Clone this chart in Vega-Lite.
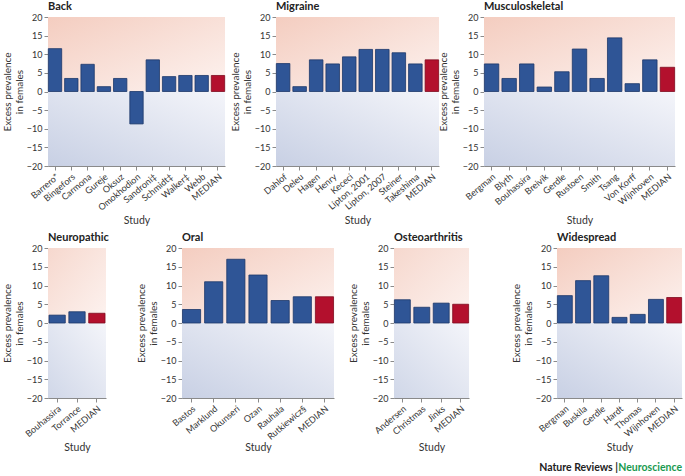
{
  "$schema": "https://vega.github.io/schema/vega-lite/v6.json",
  "padding": {"left": 2, "top": 1, "right": 2, "bottom": 2},
  "background": "white",
  "data": {"values": [
    {"cat": "Back", "study": "Barrero*", "value": 11.5, "kind": "study"},
    {"cat": "Back", "study": "Bingefors", "value": 3.5, "kind": "study"},
    {"cat": "Back", "study": "Carmona", "value": 7.3, "kind": "study"},
    {"cat": "Back", "study": "Gureje", "value": 1.3, "kind": "study"},
    {"cat": "Back", "study": "Oksuz", "value": 3.5, "kind": "study"},
    {"cat": "Back", "study": "Omokhodion", "value": -8.7, "kind": "study"},
    {"cat": "Back", "study": "Sandroni‡", "value": 8.5, "kind": "study"},
    {"cat": "Back", "study": "Schmidt‡", "value": 4.0, "kind": "study"},
    {"cat": "Back", "study": "Walker‡", "value": 4.3, "kind": "study"},
    {"cat": "Back", "study": "Webb", "value": 4.3, "kind": "study"},
    {"cat": "Back", "study": "MEDIAN", "value": 4.3, "kind": "median"},
    {"cat": "Migraine", "study": "Dahlof", "value": 7.5, "kind": "study"},
    {"cat": "Migraine", "study": "Deleu", "value": 1.3, "kind": "study"},
    {"cat": "Migraine", "study": "Hagen", "value": 8.5, "kind": "study"},
    {"cat": "Migraine", "study": "Henry", "value": 7.4, "kind": "study"},
    {"cat": "Migraine", "study": "Kececi", "value": 9.3, "kind": "study"},
    {"cat": "Migraine", "study": "Lipton, 2001", "value": 11.3, "kind": "study"},
    {"cat": "Migraine", "study": "Lipton, 2007", "value": 11.3, "kind": "study"},
    {"cat": "Migraine", "study": "Steiner", "value": 10.4, "kind": "study"},
    {"cat": "Migraine", "study": "Takeshima", "value": 7.4, "kind": "study"},
    {"cat": "Migraine", "study": "MEDIAN", "value": 8.5, "kind": "median"},
    {"cat": "Musculoskeletal", "study": "Bergman", "value": 7.4, "kind": "study"},
    {"cat": "Musculoskeletal", "study": "Blyth", "value": 3.5, "kind": "study"},
    {"cat": "Musculoskeletal", "study": "Bouhassira", "value": 7.4, "kind": "study"},
    {"cat": "Musculoskeletal", "study": "Breivik", "value": 1.2, "kind": "study"},
    {"cat": "Musculoskeletal", "study": "Gerdle", "value": 5.3, "kind": "study"},
    {"cat": "Musculoskeletal", "study": "Rustoen", "value": 11.4, "kind": "study"},
    {"cat": "Musculoskeletal", "study": "Smith", "value": 3.5, "kind": "study"},
    {"cat": "Musculoskeletal", "study": "Tsang", "value": 14.4, "kind": "study"},
    {"cat": "Musculoskeletal", "study": "Von Korff", "value": 2.1, "kind": "study"},
    {"cat": "Musculoskeletal", "study": "Wijnhoven", "value": 8.5, "kind": "study"},
    {"cat": "Musculoskeletal", "study": "MEDIAN", "value": 6.5, "kind": "median"},
    {"cat": "Neuropathic", "study": "Bouhassira", "value": 2.1, "kind": "study"},
    {"cat": "Neuropathic", "study": "Torrance", "value": 3.0, "kind": "study"},
    {"cat": "Neuropathic", "study": "MEDIAN", "value": 2.6, "kind": "median"},
    {"cat": "Oral", "study": "Bastos", "value": 3.6, "kind": "study"},
    {"cat": "Oral", "study": "Marklund", "value": 11.0, "kind": "study"},
    {"cat": "Oral", "study": "Okunseri", "value": 17.0, "kind": "study"},
    {"cat": "Oral", "study": "Ozan", "value": 12.8, "kind": "study"},
    {"cat": "Oral", "study": "Rauhala", "value": 6.0, "kind": "study"},
    {"cat": "Oral", "study": "Riley§", "value": null, "kind": "study"},
    {"cat": "Oral", "study": "Rutkiewicz§", "value": 7.0, "kind": "study"},
    {"cat": "Oral", "study": "MEDIAN", "value": 7.0, "kind": "median"},
    {"cat": "Osteoarthritis", "study": "Andersen", "value": 6.2, "kind": "study"},
    {"cat": "Osteoarthritis", "study": "Christmas", "value": 4.2, "kind": "study"},
    {"cat": "Osteoarthritis", "study": "Jinks", "value": 5.3, "kind": "study"},
    {"cat": "Osteoarthritis", "study": "MEDIAN", "value": 5.0, "kind": "median"},
    {"cat": "Widespread", "study": "Bergman", "value": 7.3, "kind": "study"},
    {"cat": "Widespread", "study": "Buskila", "value": 11.3, "kind": "study"},
    {"cat": "Widespread", "study": "Gerdle", "value": 12.6, "kind": "study"},
    {"cat": "Widespread", "study": "Hardt", "value": 1.5, "kind": "study"},
    {"cat": "Widespread", "study": "Thomas", "value": 2.3, "kind": "study"},
    {"cat": "Widespread", "study": "Wijnhoven", "value": 6.3, "kind": "study"},
    {"cat": "Widespread", "study": "MEDIAN", "value": 6.8, "kind": "median"}
  ]},
  "title": {"text": "Nature Reviews |", "orient": "bottom", "anchor": "end", "frame": "bounds", "dx": -64, "dy": -10, "fontSize": 10.5, "fontWeight": "bold", "color": "#222", "offset": 0},
  "vconcat": [
    {
      "spacing": -2,
      "hconcat": [
        {
          "spacing": 4,
          "hconcat": [
            {
              "width": 177, "height": 149,
              "title": {"text": "Back"},
              "layer": [
                {"data": {"values": [{}]}, "mark": {"type": "rect", "fill": {"gradient": "linear", "x1": 0, "y1": 0, "x2": 1, "y2": 1, "stops": [{"offset": 0, "color": "#f4cdc0"}, {"offset": 1, "color": "#fdf3f0"}]}}, "encoding": {"y": {"datum": 20, "type": "quantitative", "scale": {"domain": [-20, 20], "nice": false}, "axis": {"title": ["Excess prevalence", "in females"], "values": [-20, -15, -10, -5, 0, 5, 10, 15, 20]}}, "y2": {"datum": 0}}},
                {"data": {"values": [{}]}, "mark": {"type": "rect", "fill": {"gradient": "linear", "x1": 0, "y1": 1, "x2": 1, "y2": 0, "stops": [{"offset": 0, "color": "#c8d0e4"}, {"offset": 1, "color": "#f4f5fa"}]}}, "encoding": {"y": {"datum": 0, "type": "quantitative", "scale": {"domain": [-20, 20], "nice": false}, "axis": {"title": ["Excess prevalence", "in females"], "values": [-20, -15, -10, -5, 0, 5, 10, 15, 20]}}, "y2": {"datum": -20}}},
                {"transform": [{"filter": "datum.cat === 'Back'"}], "mark": {"type": "bar", "strokeWidth": 0.8}, "encoding": {
                  "x": {"field": "study", "type": "nominal", "sort": null, "scale": {"paddingInner": 0.18, "paddingOuter": 0.02}, "axis": {"title": "Study", "titleY": 49}},
                  "y": {"field": "value", "type": "quantitative", "scale": {"domain": [-20, 20], "nice": false}, "axis": {"title": ["Excess prevalence", "in females"], "values": [-20, -15, -10, -5, 0, 5, 10, 15, 20]}},
                  "fill": {"field": "kind", "type": "nominal", "scale": {"domain": ["study", "median"], "range": ["#2f5596", "#b3102d"]}, "legend": null},
                  "stroke": {"field": "kind", "type": "nominal", "scale": {"domain": ["study", "median"], "range": ["#1c376a", "#7d0a1e"]}, "legend": null}
                }}
              ]
            },
            {
              "width": 163, "height": 149,
              "title": {"text": "Migraine"},
              "layer": [
                {"data": {"values": [{}]}, "mark": {"type": "rect", "fill": {"gradient": "linear", "x1": 0, "y1": 0, "x2": 1, "y2": 1, "stops": [{"offset": 0, "color": "#f4cdc0"}, {"offset": 1, "color": "#fdf3f0"}]}}, "encoding": {"y": {"datum": 20, "type": "quantitative", "scale": {"domain": [-20, 20], "nice": false}, "axis": {"title": ["Excess prevalence", "in females"], "values": [-20, -15, -10, -5, 0, 5, 10, 15, 20]}}, "y2": {"datum": 0}}},
                {"data": {"values": [{}]}, "mark": {"type": "rect", "fill": {"gradient": "linear", "x1": 0, "y1": 1, "x2": 1, "y2": 0, "stops": [{"offset": 0, "color": "#c8d0e4"}, {"offset": 1, "color": "#f4f5fa"}]}}, "encoding": {"y": {"datum": 0, "type": "quantitative", "scale": {"domain": [-20, 20], "nice": false}, "axis": {"title": ["Excess prevalence", "in females"], "values": [-20, -15, -10, -5, 0, 5, 10, 15, 20]}}, "y2": {"datum": -20}}},
                {"transform": [{"filter": "datum.cat === 'Migraine'"}], "mark": {"type": "bar", "strokeWidth": 0.8}, "encoding": {
                  "x": {"field": "study", "type": "nominal", "sort": null, "scale": {"paddingInner": 0.18, "paddingOuter": 0.02}, "axis": {"title": "Study", "titleY": 49}},
                  "y": {"field": "value", "type": "quantitative", "scale": {"domain": [-20, 20], "nice": false}, "axis": {"title": ["Excess prevalence", "in females"], "values": [-20, -15, -10, -5, 0, 5, 10, 15, 20]}},
                  "fill": {"field": "kind", "type": "nominal", "scale": {"domain": ["study", "median"], "range": ["#2f5596", "#b3102d"]}, "legend": null},
                  "stroke": {"field": "kind", "type": "nominal", "scale": {"domain": ["study", "median"], "range": ["#1c376a", "#7d0a1e"]}, "legend": null}
                }}
              ]
            }
          ]
        },
        {
          "width": 191, "height": 149,
          "title": {"text": "Musculoskeletal"},
          "layer": [
            {"data": {"values": [{}]}, "mark": {"type": "rect", "fill": {"gradient": "linear", "x1": 0, "y1": 0, "x2": 1, "y2": 1, "stops": [{"offset": 0, "color": "#f4cdc0"}, {"offset": 1, "color": "#fdf3f0"}]}}, "encoding": {"y": {"datum": 20, "type": "quantitative", "scale": {"domain": [-20, 20], "nice": false}, "axis": {"title": ["Excess prevalence", "in females"], "values": [-20, -15, -10, -5, 0, 5, 10, 15, 20]}}, "y2": {"datum": 0}}},
            {"data": {"values": [{}]}, "mark": {"type": "rect", "fill": {"gradient": "linear", "x1": 0, "y1": 1, "x2": 1, "y2": 0, "stops": [{"offset": 0, "color": "#c8d0e4"}, {"offset": 1, "color": "#f4f5fa"}]}}, "encoding": {"y": {"datum": 0, "type": "quantitative", "scale": {"domain": [-20, 20], "nice": false}, "axis": {"title": ["Excess prevalence", "in females"], "values": [-20, -15, -10, -5, 0, 5, 10, 15, 20]}}, "y2": {"datum": -20}}},
            {"transform": [{"filter": "datum.cat === 'Musculoskeletal'"}], "mark": {"type": "bar", "strokeWidth": 0.8}, "encoding": {
              "x": {"field": "study", "type": "nominal", "sort": null, "scale": {"paddingInner": 0.18, "paddingOuter": 0.02}, "axis": {"title": "Study", "titleY": 49}},
              "y": {"field": "value", "type": "quantitative", "scale": {"domain": [-20, 20], "nice": false}, "axis": {"title": ["Excess prevalence", "in females"], "values": [-20, -15, -10, -5, 0, 5, 10, 15, 20]}},
              "fill": {"field": "kind", "type": "nominal", "scale": {"domain": ["study", "median"], "range": ["#2f5596", "#b3102d"]}, "legend": null},
              "stroke": {"field": "kind", "type": "nominal", "scale": {"domain": ["study", "median"], "range": ["#1c376a", "#7d0a1e"]}, "legend": null}
            }}
          ]
        }
      ]
    },
    {
      "spacing": 14,
      "title": {"text": "Neuroscience", "orient": "bottom", "anchor": "end", "frame": "bounds", "color": "#1a9a4f", "fontSize": 10.5, "fontWeight": "bold", "offset": 10},
      "hconcat": [
        {
          "spacing": 27,
          "hconcat": [
            {
              "width": 58, "height": 150,
              "title": {"text": "Neuropathic"},
              "layer": [
                {"data": {"values": [{}]}, "mark": {"type": "rect", "fill": {"gradient": "linear", "x1": 0, "y1": 0, "x2": 1, "y2": 1, "stops": [{"offset": 0, "color": "#f6d8ce"}, {"offset": 1, "color": "#fdf3f0"}]}}, "encoding": {"y": {"datum": 20, "type": "quantitative", "scale": {"domain": [-20, 20], "nice": false}, "axis": {"title": ["Excess prevalence", "in females"], "values": [-20, -15, -10, -5, 0, 5, 10, 15, 20]}}, "y2": {"datum": 0}}},
                {"data": {"values": [{}]}, "mark": {"type": "rect", "fill": {"gradient": "linear", "x1": 0, "y1": 1, "x2": 1, "y2": 0, "stops": [{"offset": 0, "color": "#d0d7e8"}, {"offset": 1, "color": "#f4f5fa"}]}}, "encoding": {"y": {"datum": 0, "type": "quantitative", "scale": {"domain": [-20, 20], "nice": false}, "axis": {"title": ["Excess prevalence", "in females"], "values": [-20, -15, -10, -5, 0, 5, 10, 15, 20]}}, "y2": {"datum": -20}}},
                {"transform": [{"filter": "datum.cat === 'Neuropathic'"}], "mark": {"type": "bar", "strokeWidth": 0.8}, "encoding": {
                  "x": {"field": "study", "type": "nominal", "sort": null, "scale": {"paddingInner": 0.18, "paddingOuter": 0.05}, "axis": {"title": "Study", "titleY": 44}},
                  "y": {"field": "value", "type": "quantitative", "scale": {"domain": [-20, 20], "nice": false}, "axis": {"title": ["Excess prevalence", "in females"], "values": [-20, -15, -10, -5, 0, 5, 10, 15, 20]}},
                  "fill": {"field": "kind", "type": "nominal", "scale": {"domain": ["study", "median"], "range": ["#2f5596", "#b3102d"]}, "legend": null},
                  "stroke": {"field": "kind", "type": "nominal", "scale": {"domain": ["study", "median"], "range": ["#1c376a", "#7d0a1e"]}, "legend": null}
                }}
              ]
            },
            {
              "width": 152, "height": 150,
              "title": {"text": "Oral"},
              "layer": [
                {"data": {"values": [{}]}, "mark": {"type": "rect", "fill": {"gradient": "linear", "x1": 0, "y1": 0, "x2": 1, "y2": 1, "stops": [{"offset": 0, "color": "#f4cdc0"}, {"offset": 1, "color": "#fdf3f0"}]}}, "encoding": {"y": {"datum": 20, "type": "quantitative", "scale": {"domain": [-20, 20], "nice": false}, "axis": {"title": ["Excess prevalence", "in females"], "values": [-20, -15, -10, -5, 0, 5, 10, 15, 20]}}, "y2": {"datum": 0}}},
                {"data": {"values": [{}]}, "mark": {"type": "rect", "fill": {"gradient": "linear", "x1": 0, "y1": 1, "x2": 1, "y2": 0, "stops": [{"offset": 0, "color": "#c8d0e4"}, {"offset": 1, "color": "#f4f5fa"}]}}, "encoding": {"y": {"datum": 0, "type": "quantitative", "scale": {"domain": [-20, 20], "nice": false}, "axis": {"title": ["Excess prevalence", "in females"], "values": [-20, -15, -10, -5, 0, 5, 10, 15, 20]}}, "y2": {"datum": -20}}},
                {"transform": [{"filter": "datum.cat === 'Oral'"}], "mark": {"type": "bar", "strokeWidth": 0.8}, "encoding": {
                  "x": {"field": "study", "type": "nominal", "sort": null, "scale": {"paddingInner": 0.18, "paddingOuter": 0.02}, "axis": {"title": "Study", "titleY": 44}},
                  "y": {"field": "value", "type": "quantitative", "scale": {"domain": [-20, 20], "nice": false}, "axis": {"title": ["Excess prevalence", "in females"], "values": [-20, -15, -10, -5, 0, 5, 10, 15, 20]}},
                  "fill": {"field": "kind", "type": "nominal", "scale": {"domain": ["study", "median"], "range": ["#2f5596", "#b3102d"]}, "legend": null},
                  "stroke": {"field": "kind", "type": "nominal", "scale": {"domain": ["study", "median"], "range": ["#1c376a", "#7d0a1e"]}, "legend": null}
                }}
              ]
            }
          ]
        },
        {
          "spacing": 41,
          "hconcat": [
            {
              "width": 75, "height": 150,
              "title": {"text": "Osteoarthritis"},
              "layer": [
                {"data": {"values": [{}]}, "mark": {"type": "rect", "fill": {"gradient": "linear", "x1": 0, "y1": 0, "x2": 1, "y2": 1, "stops": [{"offset": 0, "color": "#f6d8ce"}, {"offset": 1, "color": "#fdf3f0"}]}}, "encoding": {"y": {"datum": 20, "type": "quantitative", "scale": {"domain": [-20, 20], "nice": false}, "axis": {"title": ["Excess prevalence", "in females"], "values": [-20, -15, -10, -5, 0, 5, 10, 15, 20]}}, "y2": {"datum": 0}}},
                {"data": {"values": [{}]}, "mark": {"type": "rect", "fill": {"gradient": "linear", "x1": 0, "y1": 1, "x2": 1, "y2": 0, "stops": [{"offset": 0, "color": "#d0d7e8"}, {"offset": 1, "color": "#f4f5fa"}]}}, "encoding": {"y": {"datum": 0, "type": "quantitative", "scale": {"domain": [-20, 20], "nice": false}, "axis": {"title": ["Excess prevalence", "in females"], "values": [-20, -15, -10, -5, 0, 5, 10, 15, 20]}}, "y2": {"datum": -20}}},
                {"transform": [{"filter": "datum.cat === 'Osteoarthritis'"}], "mark": {"type": "bar", "strokeWidth": 0.8}, "encoding": {
                  "x": {"field": "study", "type": "nominal", "sort": null, "scale": {"paddingInner": 0.18, "paddingOuter": 0.02}, "axis": {"title": "Study", "titleY": 44}},
                  "y": {"field": "value", "type": "quantitative", "scale": {"domain": [-20, 20], "nice": false}, "axis": {"title": ["Excess prevalence", "in females"], "values": [-20, -15, -10, -5, 0, 5, 10, 15, 20]}},
                  "fill": {"field": "kind", "type": "nominal", "scale": {"domain": ["study", "median"], "range": ["#2f5596", "#b3102d"]}, "legend": null},
                  "stroke": {"field": "kind", "type": "nominal", "scale": {"domain": ["study", "median"], "range": ["#1c376a", "#7d0a1e"]}, "legend": null}
                }}
              ]
            },
            {
              "width": 125, "height": 150,
              "title": {"text": "Widespread"},
              "layer": [
                {"data": {"values": [{}]}, "mark": {"type": "rect", "fill": {"gradient": "linear", "x1": 0, "y1": 0, "x2": 1, "y2": 1, "stops": [{"offset": 0, "color": "#f4cdc0"}, {"offset": 1, "color": "#fdf3f0"}]}}, "encoding": {"y": {"datum": 20, "type": "quantitative", "scale": {"domain": [-20, 20], "nice": false}, "axis": {"title": ["Excess prevalence", "in females"], "values": [-20, -15, -10, -5, 0, 5, 10, 15, 20]}}, "y2": {"datum": 0}}},
                {"data": {"values": [{}]}, "mark": {"type": "rect", "fill": {"gradient": "linear", "x1": 0, "y1": 1, "x2": 1, "y2": 0, "stops": [{"offset": 0, "color": "#c8d0e4"}, {"offset": 1, "color": "#f4f5fa"}]}}, "encoding": {"y": {"datum": 0, "type": "quantitative", "scale": {"domain": [-20, 20], "nice": false}, "axis": {"title": ["Excess prevalence", "in females"], "values": [-20, -15, -10, -5, 0, 5, 10, 15, 20]}}, "y2": {"datum": -20}}},
                {"transform": [{"filter": "datum.cat === 'Widespread'"}], "mark": {"type": "bar", "strokeWidth": 0.8}, "encoding": {
                  "x": {"field": "study", "type": "nominal", "sort": null, "scale": {"paddingInner": 0.18, "paddingOuter": 0.02}, "axis": {"title": "Study", "titleY": 44}},
                  "y": {"field": "value", "type": "quantitative", "scale": {"domain": [-20, 20], "nice": false}, "axis": {"title": ["Excess prevalence", "in females"], "values": [-20, -15, -10, -5, 0, 5, 10, 15, 20]}},
                  "fill": {"field": "kind", "type": "nominal", "scale": {"domain": ["study", "median"], "range": ["#2f5596", "#b3102d"]}, "legend": null},
                  "stroke": {"field": "kind", "type": "nominal", "scale": {"domain": ["study", "median"], "range": ["#1c376a", "#7d0a1e"]}, "legend": null}
                }}
              ]
            }
          ]
        }
      ]
    }
  ],
  "spacing": 6,
  "config": {
    "font": "Lato",
    "view": {"stroke": null},
    "axis": {"grid": false, "domainColor": "#8a8a8a", "tickColor": "#8a8a8a", "labelColor": "#333", "titleColor": "#333", "labelFontSize": 9, "titleFontSize": 10, "titleFontWeight": "normal", "tickSize": 4, "labelPadding": 2},
    "axisX": {"labelAngle": -40, "labelAlign": "right", "labelBaseline": "top", "titleFontSize": 10.5},
    "axisY": {"titlePadding": 2},
    "title": {"anchor": "start", "frame": "group", "fontSize": 11, "fontWeight": "bold", "color": "#222", "offset": 1}
  }
}
